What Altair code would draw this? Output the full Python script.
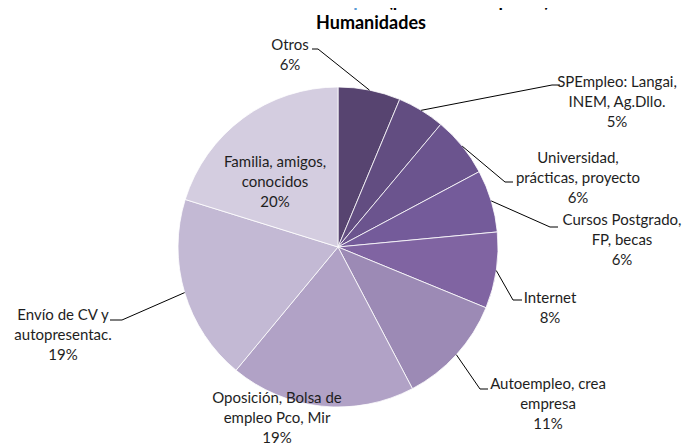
import math
import altair as alt
import pandas as pd

# ---------------- data ----------------
CATEGORIES = [
    "Otros",
    "SPEmpleo: Langai,\nINEM, Ag.Dllo.",
    "Universidad,\nprácticas, proyecto",
    "Cursos Postgrado,\nFP, becas",
    "Internet",
    "Autoempleo, crea\nempresa",
    "Oposición, Bolsa de\nempleo Pco, Mir",
    "Envío de CV y\nautopresentac.",
    "Familia, amigos,\nconocidos",
]
SHARES = [6.3, 4.8, 6.1, 6.3, 7.7, 11.1, 18.7, 18.8, 20.2]
COLORS = ["#574470", "#624d81", "#6b548e", "#745b9a", "#8064a2",
          "#9c8ab5", "#b1a2c6", "#c3b9d4", "#d4cde0"]

TITLE_BLUE = "Canal de acceso al empleo"
TITLE_BLACK = " (personas ocupadas):"
TITLE_LINE2 = "Humanidades"

# ---------------- layout (page pixels) ----------------
W, H = 683, 436
CX, CY, R = 338, 247, 160
LABEL_X = [290, 617, 578, 622, 550, 548, 277, 63, 275]
LABEL_Y = [45, 82, 158, 220, 298, 384, 398, 315, 162]   # first-line centres
LEADER_ELBOW = [(318, 49), (552, 85), (505, 182), (550, 227), (513, 300),
                (480, 389), None, (122, 320), None]
LEADER_END = [(312, 49), (560, 85), (513, 182), (558, 227), (522, 300),
              (488, 389), None, (110, 320), None]

FONT = "Lato"

# ---------------- tables ----------------
total = sum(SHARES)
pie = pd.DataFrame({"idx": range(len(CATEGORIES)), "cat": CATEGORIES, "share": SHARES})

labels = pd.DataFrame({
    "cat": CATEGORIES,
    "text": [c + "\n" + f"{round(v / total * 100)}%" for c, v in zip(CATEGORIES, SHARES)],
    "x": LABEL_X,
    "y": LABEL_Y,
})

rows = []
cum = 0.0
for i, v in enumerate(SHARES):
    mid = (cum + v / 2) / total * 2 * math.pi
    cum += v
    if LEADER_ELBOW[i] is None:
        continue
    sx = CX + R * math.sin(mid)
    sy = CY - R * math.cos(mid)
    pts = [(sx, sy), LEADER_ELBOW[i], LEADER_END[i]]
    for k, (px, py) in enumerate(pts):
        rows.append({"cat": CATEGORIES[i], "k": k, "x": px, "y": py})
leaders = pd.DataFrame(rows)

titles = pd.DataFrame({
    "text": [TITLE_BLUE, TITLE_BLACK, TITLE_LINE2],
    "x": [388, 388, 371],
    "y": [7, 7, 29],
    "align": ["right", "left", "center"],
    "color": ["#5B9BD5", "#000000", "#000000"],
})

xs = alt.Scale(domain=[8, 8 + W], range=[0, W])
ys = alt.Scale(domain=[8, 8 + H], range=[0, H])

arcs = alt.Chart(pie).mark_arc(outerRadius=R, stroke="white", strokeWidth=0.8).encode(
    theta=alt.Theta("share:Q", stack=True),
    order=alt.Order("idx:Q"),
    color=alt.Color("cat:N", scale=alt.Scale(domain=CATEGORIES, range=COLORS), legend=None),
    x=alt.value(CX - 8),
    y=alt.value(CY - 8),
)

lines = alt.Chart(leaders).mark_line(color="#000000", strokeWidth=1).encode(
    x=alt.X("x:Q", scale=xs, axis=None),
    y=alt.Y("y:Q", scale=ys, axis=None),
    detail="cat:N",
    order="k:Q",
)

texts = alt.Chart(labels).mark_text(
    font=FONT, fontSize=15, lineBreak="\n", lineHeight=20,
    align="center", baseline="middle", color="#1e1e1e",
).encode(
    x=alt.X("x:Q", scale=xs, axis=None),
    y=alt.Y("y:Q", scale=ys, axis=None),
    text="text:N",
)

def title_text(i):
    t = titles.iloc[[i]]
    return alt.Chart(t).mark_text(
        font=FONT, fontSize=18, fontWeight="bold", baseline="alphabetic",
        align=t["align"].iloc[0], color=t["color"].iloc[0],
    ).encode(
        x=alt.X("x:Q", scale=xs, axis=None),
        y=alt.Y("y:Q", scale=ys, axis=None),
        text="text:N",
    )

chart = alt.layer(arcs, lines, texts, title_text(0), title_text(1), title_text(2)).properties(
    width=W, height=H,
    autosize=alt.AutoSizeParams(type="none"),
    padding=0,
).configure_view(stroke=None)

chart.save("out.html", embed_options={"renderer": "svg", "actions": False})
